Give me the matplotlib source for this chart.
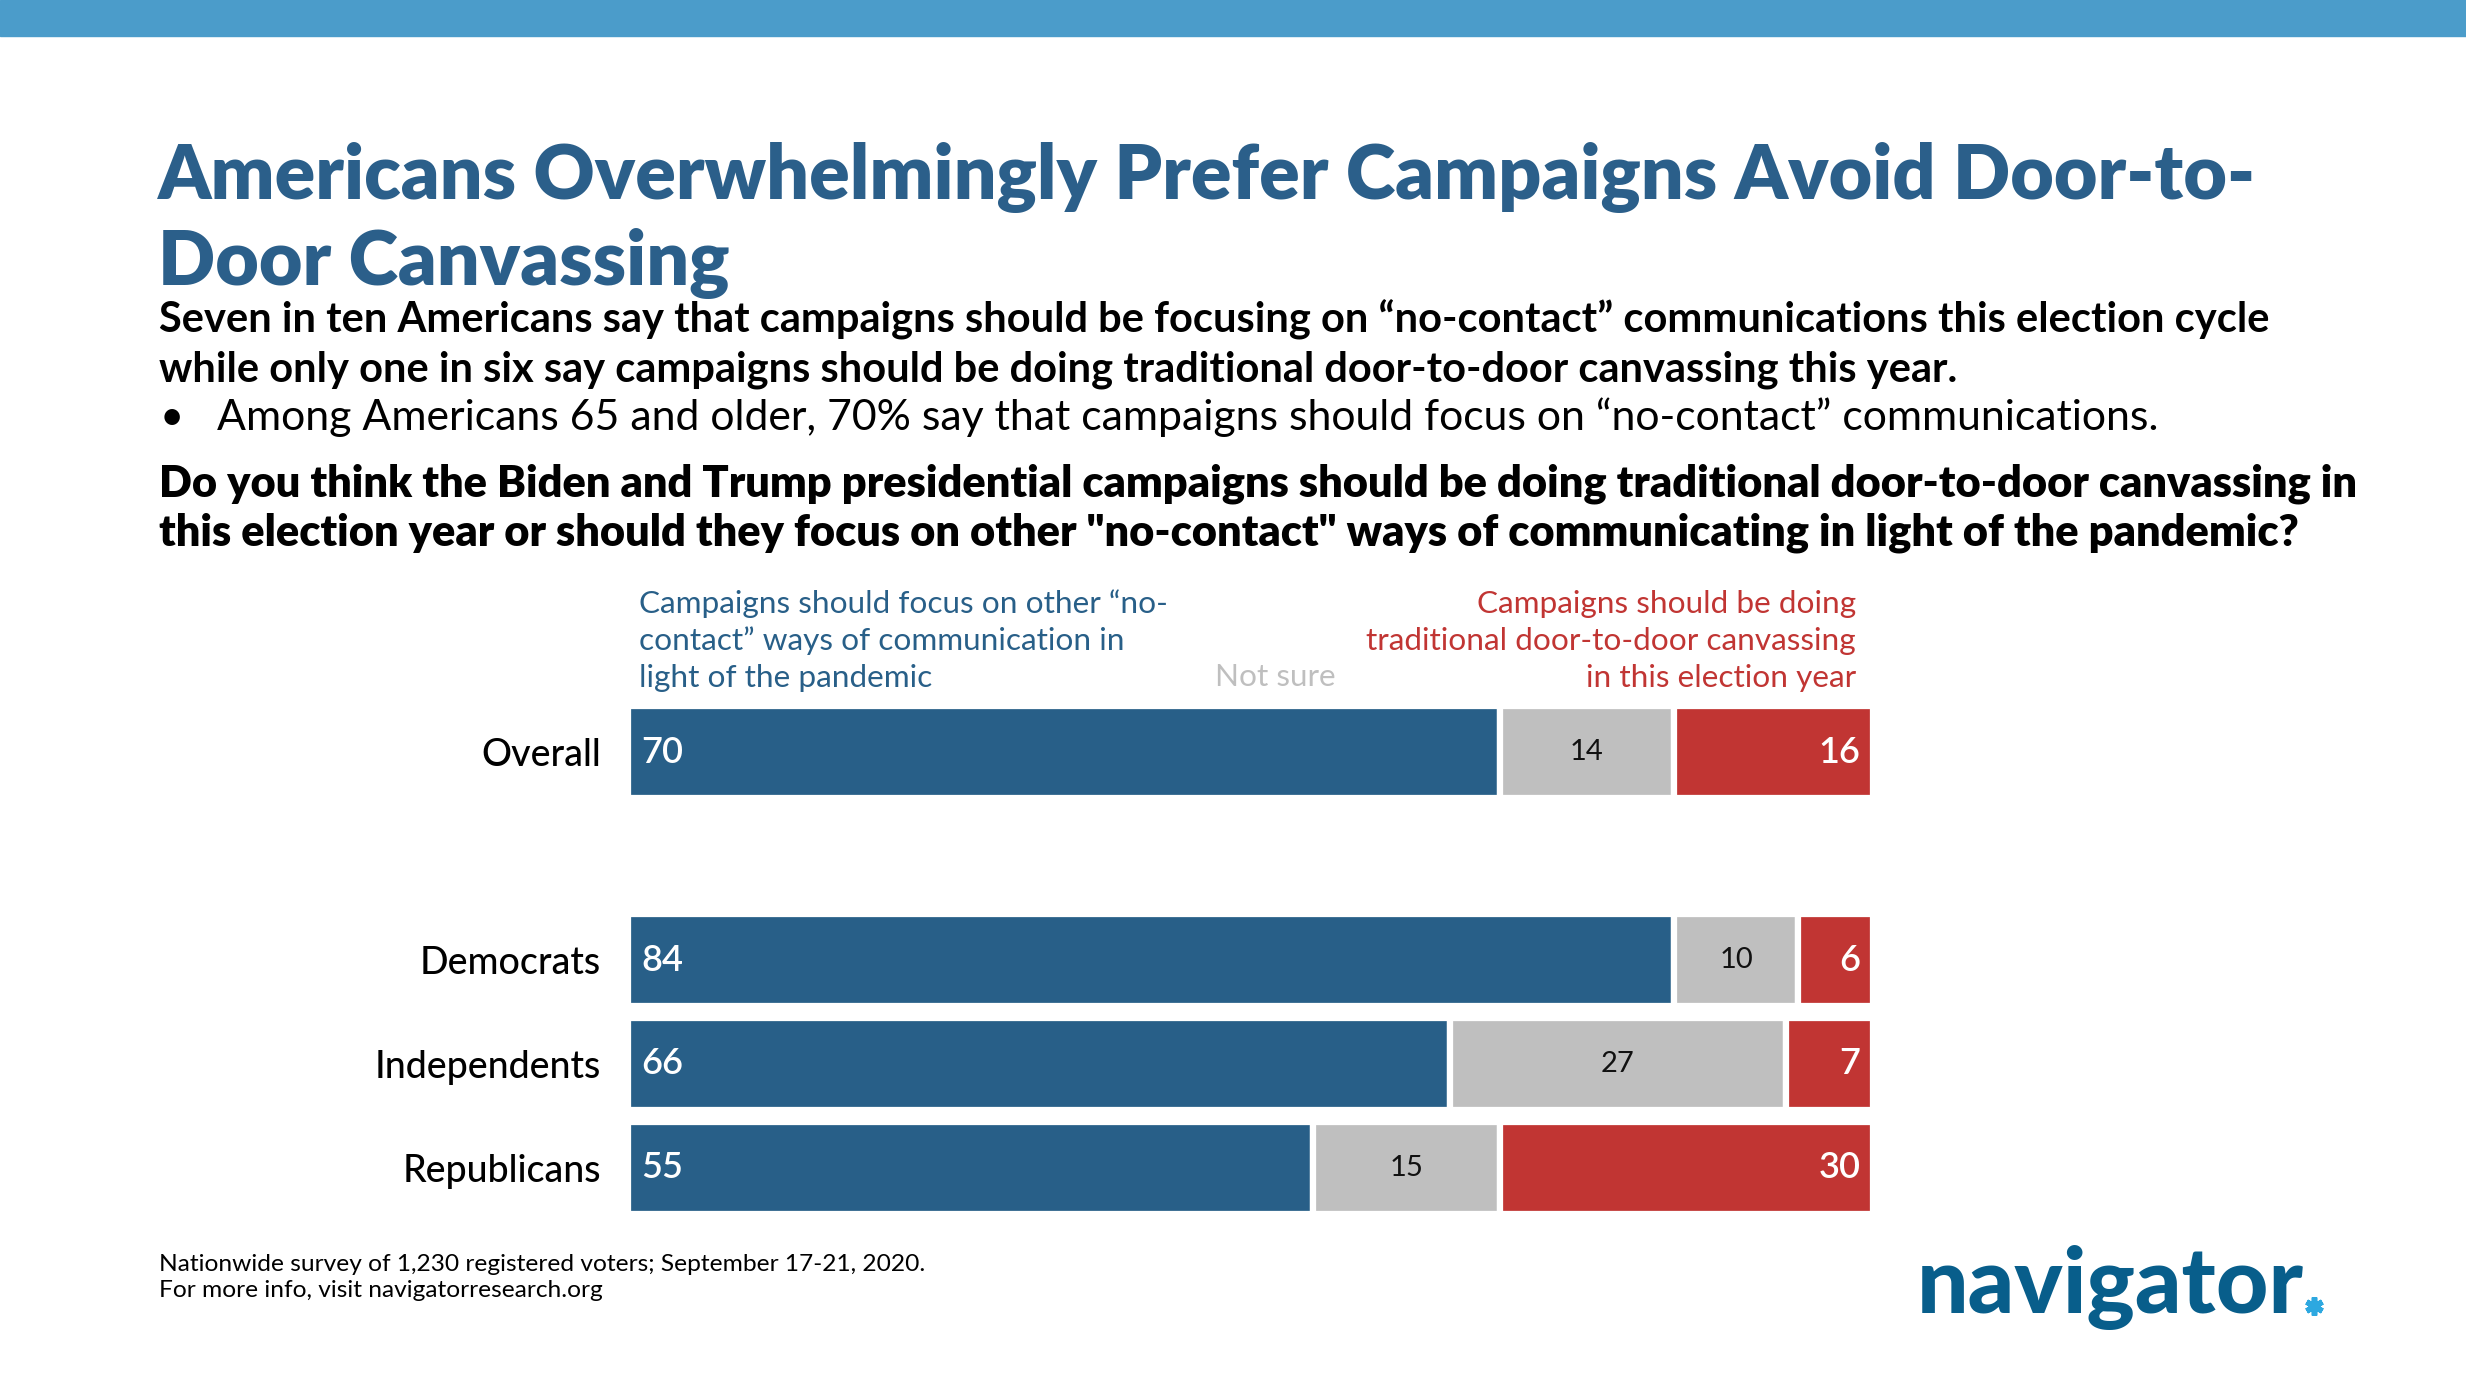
import matplotlib
matplotlib.use("Agg")
import matplotlib.pyplot as plt
from matplotlib.patches import Rectangle
from matplotlib.lines import Line2D

plt.rcParams['font.family'] = ['Lato', 'DejaVu Sans']

# dati
categories = ['Overall', 'Democrats', 'Independents', 'Republicans']
no_contact = [70, 84, 66, 55]
not_sure = [14, 10, 27, 15]
door_to_door = [16, 6, 7, 30]

title_lines = ['Americans Overwhelmingly Prefer Campaigns Avoid Door-to-',
               'Door Canvassing']
subtitle_lines = ['Seven in ten Americans say that campaigns should be focusing on \u201cno-contact\u201d communications this election cycle',
                  'while only one in six say campaigns should be doing traditional door-to-door canvassing this year.']
bullet_line = 'Among Americans 65 and older, 70% say that campaigns should focus on \u201cno-contact\u201d communications.'
question_lines = ['Do you think the Biden and Trump presidential campaigns should be doing traditional door-to-door canvassing in',
                  'this election year or should they focus on other "no-contact" ways of communicating in light of the pandemic?']
blue_label = ['Campaigns should focus on other \u201cno-',
              'contact\u201d ways of communication in',
              'light of the pandemic']
red_label = ['Campaigns should be doing',
             'traditional door-to-door canvassing',
             'in this election year']
notes = ['Nationwide survey of 1,230 registered voters; September 17-21, 2020.',
         'For more info, visit navigatorresearch.org']

BLUE = '#285F88'
GRAY = '#BFBFBF'
RED = '#C13533'
TITLE = '#2B5F8A'

W, H = 2466, 1392
fig = plt.figure(figsize=(W / 100, H / 100), dpi=100)
renderer = fig.canvas.get_renderer()


def fx(px):
    return px / W


def fy(py):
    return 1 - py / H


def fit(t, width):
    # adatta la dimensione del font alla larghezza voluta (pixel)
    for _ in range(3):
        w = t.get_window_extent(renderer).width
        t.set_fontsize(t.get_fontsize() * width / w)
    return t.get_fontsize()


def txt(x, y, s, **kw):
    kw.setdefault('va', 'baseline')
    return fig.text(fx(x), fy(y), s, **kw)


# banda in alto
fig.patches.append(Rectangle((0, fy(36)), 1, 36 / H, transform=fig.transFigure,
                             color='#4B9CCA', zorder=0))

# titolo
t = txt(158, 199, title_lines[0], fontsize=50, weight='heavy', color=TITLE)
fs = fit(t, 2099)
txt(158, 285, title_lines[1], fontsize=fs, weight='heavy', color=TITLE)

# sottotitolo
t = txt(159, 332, subtitle_lines[0], fontsize=28, weight='bold', color='black')
fs = fit(t, 2107)
txt(159, 381, subtitle_lines[1], fontsize=fs, weight='bold', color='black')
txt(160, 430, '\u2022', fontsize=fs, color='black')
t = txt(217, 430, bullet_line, fontsize=fs, color='black')
fit(t, 1945)

# domanda
t = txt(159, 497, question_lines[0], fontsize=28, weight='heavy', color='black')
fs = fit(t, 2195)
txt(159, 546, question_lines[1], fontsize=fs, weight='heavy', color='black')

# etichette legenda
t = txt(639, 613, blue_label[0], fontsize=22, color=BLUE)
fs = fit(t, 527)
for i, s in enumerate(blue_label[1:]):
    txt(639, 650 + 37 * i, s, fontsize=fs, color=BLUE)
for i, s in enumerate(red_label):
    txt(1856, 613 + 37 * i, s, fontsize=fs, color=RED, ha='right')
txt(1275, 686, 'Not sure', fontsize=fs, color=GRAY, ha='center')

# barre
unit = 104
top = 752 - unit
ax = fig.add_axes([fx(628), fy(top + 6 * unit), fx(1873) - fx(628), 6 * unit / H])
rows = [0, 2, 3, 4]
h = 0.88
ax.barh(rows, no_contact, height=h, color=BLUE, edgecolor='white', linewidth=4.5)
ax.barh(rows, not_sure, left=no_contact, height=h, color=GRAY, edgecolor='white', linewidth=4.5)
left_red = [a + b for a, b in zip(no_contact, not_sure)]
ax.barh(rows, door_to_door, left=left_red, height=h, color=RED, edgecolor='white', linewidth=4.5)

for r, a, b, c, l in zip(rows, no_contact, not_sure, door_to_door, left_red):
    ax.text(1.1, r, str(a), ha='left', va='center', color='white', fontsize=26, weight='semibold')
    ax.text(a + b / 2, r, str(b), ha='center', va='center', color='#111111', fontsize=21)
    ax.text(99.0, r, str(c), ha='right', va='center', color='white', fontsize=26, weight='semibold')

ax.set_xlim(0, 100)
ax.set_ylim(5, -1)
ax.set_yticks(rows, labels=categories, fontsize=27, weight='medium')
for lab in ax.get_yticklabels():
    lab.set_va('center_baseline')
ax.tick_params(left=False, bottom=False, labelbottom=False, pad=16)
for sp in ax.spines.values():
    sp.set_visible(False)

# note
t = txt(159, 1271, notes[0], fontsize=16, color='black')
fs = fit(t, 763)
txt(159, 1297, notes[1], fontsize=fs, color='black')

# logo
t = txt(1917, 1313, 'navigator', fontsize=60, weight='black', color='#085E8B')
fit(t, 387)
fig.add_artist(Line2D([fx(2314)], [fy(1306)], marker=(6, 2, 0), markersize=13,
                      mew=4, color='#2DA8E0', transform=fig.transFigure))

fig.savefig('out.png', dpi=100)
